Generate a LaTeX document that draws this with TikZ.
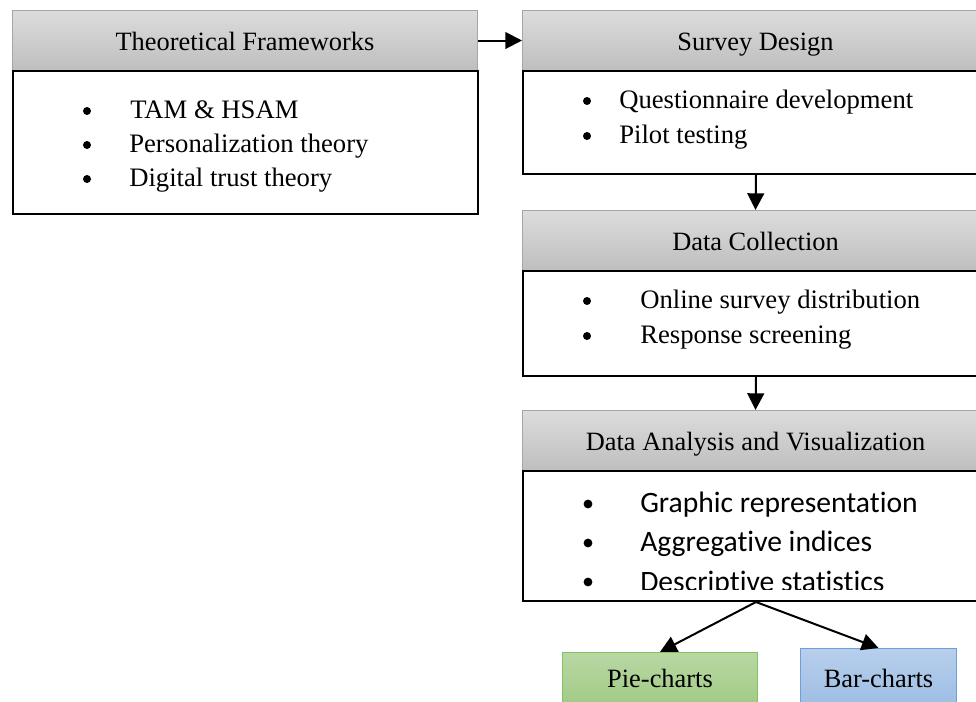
\documentclass[tikz,border=0pt]{standalone}
\usepackage{fontspec}
\setmainfont{Liberation Serif}
\newfontfamily\calib[Ligatures=NoCommon]{Carlito}
\usetikzlibrary{arrows.meta}
\definecolor{hdtop}{HTML}{DCDCDC}
\definecolor{hdbot}{HTML}{BEBEBE}
\definecolor{hdborder}{HTML}{A6A6A6}
\definecolor{pietop}{HTML}{B8D8A4}
\definecolor{piebot}{HTML}{A3CB87}
\definecolor{pieborder}{HTML}{86C064}
\definecolor{bartop}{HTML}{B8CFEC}
\definecolor{barbot}{HTML}{9DBDE4}
\definecolor{barborder}{HTML}{6E9FD8}
\begin{document}
\begin{tikzpicture}[x=0.75pt,y=-0.75pt,
  hdr/.style={draw=hdborder, line width=0.75pt, top color=hdtop, bottom color=hdbot,
    anchor=north west, inner sep=0pt, minimum height=60*0.75pt,
    text height=15pt, text depth=0pt,
    font=\fontsize{19.8}{23}\selectfont},
  bodybox/.style={draw=black, line width=1.5pt, fill=white, anchor=north west, inner sep=0pt},
  item/.style={anchor=base west, inner sep=0pt, font=\fontsize{20}{24}\selectfont},
  itemc/.style={anchor=base west, inner sep=0pt, font=\calib\fontsize{22.2}{26}\selectfont},
  bul/.style={circle, fill=black, inner sep=0pt, minimum size=6pt},
  bulc/.style={circle, fill=black, inner sep=0pt, minimum size=6.6pt},
  arr/.style={line width=1.5pt, -{Triangle[length=12.5pt,width=12.5pt]}},
  leaf/.style={line width=0.75pt, anchor=north west, inner sep=0pt,
    text height=15pt, text depth=0pt,
    font=\fontsize{19.8}{23}\selectfont},
]
\useasboundingbox (0,0) rectangle (976,701);
\clip (0,0) rectangle (976,701);

% Theoretical Frameworks
\node[hdr, minimum width=465*0.75pt] (tfh) at (12,10) {Theoretical Frameworks};
\node[bodybox, minimum width=465*0.75pt, minimum height=143*0.75pt] (tfb) at (12,70) {};
\node[bul] (tfb1) at (87,111) {};
\node[item] (tft1) at (130,118) {TAM \& HSAM};
\node[bul] (tfb2) at (87,145) {};
\node[item] (tft2) at (129,152) {Personalization theory};
\node[bul] (tfb3) at (87,179) {};
\node[item] (tft3) at (129,186) {Digital trust theory};

% Survey Design
\node[hdr, minimum width=466*0.75pt] (sdh) at (522,10) {Survey Design};
\node[bodybox, minimum width=466*0.75pt, minimum height=103*0.75pt] (sdb) at (522,70) {};
\node[bul] (sdb1) at (587,101) {};
\node[item] (sdt1) at (619,108) {Questionnaire development};
\node[bul] (sdb2) at (587,136) {};
\node[item] (sdt2) at (619,143) {Pilot testing};

% Data Collection
\node[hdr, minimum width=466*0.75pt] (dch) at (522,210) {Data Collection};
\node[bodybox, minimum width=466*0.75pt, minimum height=105*0.75pt] (dcb) at (522,270) {};
\node[bul] (dcb1) at (587,301) {};
\node[item] (dct1) at (640,308) {Online survey distribution};
\node[bul] (dcb2) at (587,336) {};
\node[item] (dct2) at (640,343) {Response screening};

% Data Analysis
\node[hdr, minimum width=466*0.75pt] (dah) at (522,410) {Data Analysis and Visualization};
\node[bodybox, minimum width=466*0.75pt, minimum height=130*0.75pt] (dab) at (522,470) {};
\begin{scope}
\clip (522,470) rectangle (988,589);
\node[bulc] (dab1) at (588,504) {};
\node[itemc] (dat1) at (640,512) {Graphic representation};
\node[bulc] (dab2) at (588,543) {};
\node[itemc] (dat2) at (640,551) {Aggregative indices};
\node[bulc] (dab3) at (588,582) {};
\node[itemc] (dat3) at (640,591) {Descriptive statistics};
\end{scope}

% Leaves
\node[leaf, draw=pieborder, top color=pietop, bottom color=piebot,
  minimum width=195*0.75pt, minimum height=50*0.75pt] (pie) at (562,652) {Pie-charts};
\node[leaf, draw=barborder, top color=bartop, bottom color=barbot,
  minimum width=156*0.75pt, minimum height=58*0.75pt] (bar) at (800,648) {Bar-charts};

% Connectors
\draw[arr] (tfh.east) -- (sdh.west);
\draw[arr] (sdb.south) -- (dch.north);
\draw[arr] (dcb.south) -- (dah.north);
\draw[arr] (dab.south) -- (pie.north);
\draw[arr] (dab.south) -- (bar.north);
\end{tikzpicture}
\end{document}
